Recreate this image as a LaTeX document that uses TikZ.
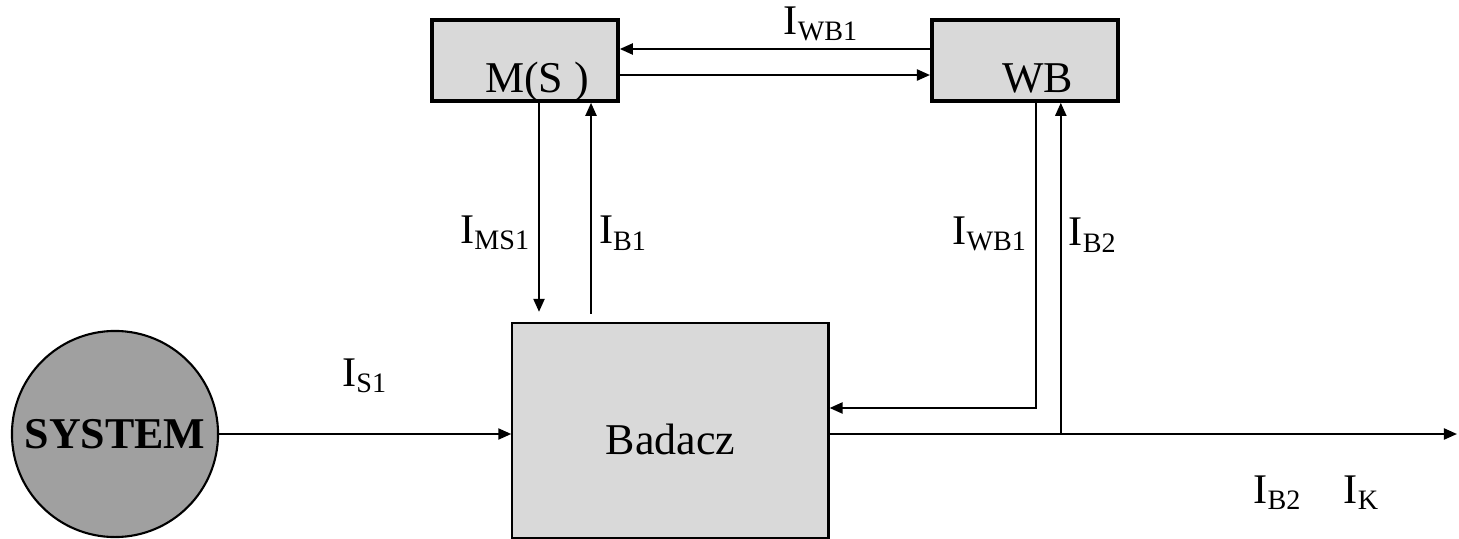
\documentclass[tikz,border=0pt]{standalone}
\usepackage{fontspec}
\setmainfont{Liberation Serif}
\usetikzlibrary{arrows.meta,positioning}
\definecolor{boxgray}{RGB}{217,217,217}
\definecolor{sysgray}{RGB}{160,160,160}
\tikzset{
  topbox/.style={
    rectangle, draw, line width=1pt, fill=boxgray,
    minimum width=1.86cm, minimum height=0.81cm,
    inner ysep=1pt, text height=0.63cm, text depth=0pt,
    font=\fontsize{12.5}{15}\selectfont
  },
  mainbox/.style={
    rectangle, draw, line width=0.6pt, fill=boxgray,
    minimum width=3.16cm, minimum height=2.15cm,
    text height=0.47cm, text depth=0pt,
    font=\fontsize{12.5}{15}\selectfont
  },
  sysnode/.style={
    circle, draw, line width=0.6pt, fill=sysgray,
    minimum size=2.06cm, inner sep=0pt,
    font=\fontsize{12.5}{15}\selectfont\bfseries
  },
  arrow/.style={-{Triangle[length=0.13cm,width=0.11cm]}, line width=0.6pt},
  flowlabel/.style={inner sep=2pt}
}
\newcommand{\flow}[1]{I\textsubscript{#1}}

\begin{document}
\begin{tikzpicture}[x=0.01cm, y=-0.01cm, font=\fontsize{12}{14}\selectfont]
  \useasboundingbox (0,0) rectangle (1459,539);

  \node[sysnode] (system) at (115,434) {SYSTEM};
  \node[mainbox, right=2.92cm of system, yshift=0.035cm] (badacz) {Badacz};
  \node[topbox] (ms) at (525,60.5) {\hspace*{0.24cm}M(S )};
  \node[topbox, right=3.10cm of ms] (wb) {\hspace*{0.26cm}WB};
  \coordinate (kout) at (1457,434);

  % top pair
  \draw[arrow] ([yshift=0.115cm]wb.west)
    -- node[flowlabel, above, pos=0.35] (lwbtop) {\flow{WB1}}
    ([yshift=0.115cm]wb.west -| ms.east);
  \draw[arrow] ([yshift=-0.145cm]ms.east) -- ([yshift=-0.145cm]ms.east -| wb.west);

  % M(S) <-> Badacz
  \draw[arrow, shorten >=0.1cm] ([xshift=0.14cm]ms.south)
    -- node[flowlabel, left, pos=0.595] (lms) {\flow{MS1}}
    ([xshift=0.14cm]ms.south |- badacz.north);
  \draw[arrow, shorten <=0.08cm] ([xshift=0.66cm]ms.south |- badacz.north)
    -- node[flowlabel, right, pos=0.405] (lb1) {\flow{B1}}
    ([xshift=0.66cm]ms.south);

  % WB <-> Badacz
  \draw[arrow] ([xshift=0.11cm]wb.south)
    |- node[flowlabel, left, pos=0.215] (lwb) {\flow{WB1}}
    ([yshift=0.225cm]badacz.east);
  \draw[arrow] ([xshift=0.36cm]wb.south |- kout)
    -- node[flowlabel, right, pos=0.6] (lb2) {\flow{B2}}
    ([xshift=0.36cm]wb.south);

  % main line
  \draw[arrow] (system.east)
    -- node[above=0.28cm, midway] (ls1) {\flow{S1}}
    (system.east -| badacz.west);
  \draw[arrow] (system.east -| badacz.east) -- (kout);

  \node (lb2out) at (1278,493) {\flow{B2}};
  \node (lk) at (1362,493) {\flow{K}};
\end{tikzpicture}
\end{document}
